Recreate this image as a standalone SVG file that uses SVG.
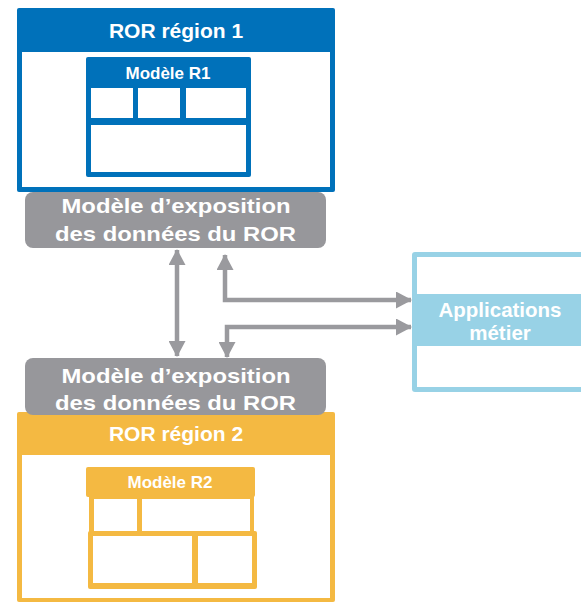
<svg xmlns="http://www.w3.org/2000/svg" width="581" height="602" viewBox="0 0 581 602">
<style>
text{font-family:"Liberation Sans",Arial,sans-serif;font-weight:bold;fill:#fff;text-anchor:middle}
.title{font-size:21px}
.model{font-size:17px}
.expo{font-size:21px}
.app{font-size:20.5px}
.blue{fill:#0071BA}
.yellow{fill:#F4B942}
.gray{fill:#97979B}
.light{fill:#98D2E6}
.white{fill:#fff}
.conn{fill:none;stroke:#9A9A9E;stroke-width:4.5}
</style>
<defs>
<marker id="ah" viewBox="0 0 16 17" refX="15" refY="8.5" markerWidth="16" markerHeight="17" markerUnits="userSpaceOnUse" orient="auto-start-reverse">
<path d="M0,0 L16,8.5 L0,17 Z" fill="#9A9A9E"/>
</marker>
</defs>
<g id="region1">
<rect class="blue" x="17" y="8" width="318" height="184" rx="2"/>
<rect class="white" x="22" y="52" width="308" height="135"/>
<text class="title" x="176" y="38">ROR région 1</text>
</g>
<g id="modele-r1">
<rect class="blue" x="86" y="57" width="165" height="120" rx="2"/>
<text class="model" x="168" y="79">Modèle R1</text>
<rect class="white" x="91" y="88" width="42" height="30"/>
<rect class="white" x="138" y="88" width="42" height="30"/>
<rect class="white" x="186" y="88" width="60" height="30"/>
<rect class="white" x="91" y="125" width="155" height="47"/>
</g>
<g id="region2">
<rect class="yellow" x="17" y="412" width="318" height="190" rx="2"/>
<rect class="white" x="22" y="455" width="308" height="143"/>
<text class="title" x="176" y="441">ROR région 2</text>
</g>
<g id="modele-r2">
<rect class="yellow" x="86" y="467" width="169" height="30" rx="2"/>
<text class="model" x="170" y="488">Modèle R2</text>
<rect class="yellow" x="89" y="496" width="165" height="37"/>
<rect class="white" x="94" y="499" width="43" height="32"/>
<rect class="white" x="142" y="499" width="108" height="32"/>
<rect class="yellow" x="88" y="531" width="169" height="58" rx="2"/>
<rect class="white" x="93" y="536" width="99" height="47"/>
<rect class="white" x="198" y="536" width="54" height="47"/>
</g>
<g id="expo1">
<rect class="gray" x="25" y="192" width="301" height="56" rx="8"/>
<text class="expo" x="176" y="213" textLength="229" lengthAdjust="spacingAndGlyphs">Modèle d’exposition</text>
<text class="expo" x="175.5" y="241" textLength="241" lengthAdjust="spacingAndGlyphs">des données du ROR</text>
</g>
<g id="expo2">
<rect class="gray" x="25" y="358" width="301" height="57" rx="8"/>
<text class="expo" x="176" y="383" textLength="229" lengthAdjust="spacingAndGlyphs">Modèle d’exposition</text>
<text class="expo" x="175.5" y="410" textLength="241" lengthAdjust="spacingAndGlyphs">des données du ROR</text>
</g>
<g id="applications">
<rect class="light" x="412" y="252" width="180" height="140" rx="3"/>
<rect class="white" x="417" y="257" width="175" height="37"/>
<rect class="white" x="417" y="346" width="175" height="41"/>
<text class="app" x="500" y="317">Applications</text>
<text class="app" x="500" y="340">métier</text>
</g>
<g id="connectors">
<path class="conn" d="M177,250 L177,356" marker-start="url(#ah)" marker-end="url(#ah)"/>
<path class="conn" d="M225,255 L225,300 L411,300" marker-start="url(#ah)" marker-end="url(#ah)"/>
<path class="conn" d="M411,327 L227,327 L227,357" marker-start="url(#ah)" marker-end="url(#ah)"/>
</g>
</svg>
